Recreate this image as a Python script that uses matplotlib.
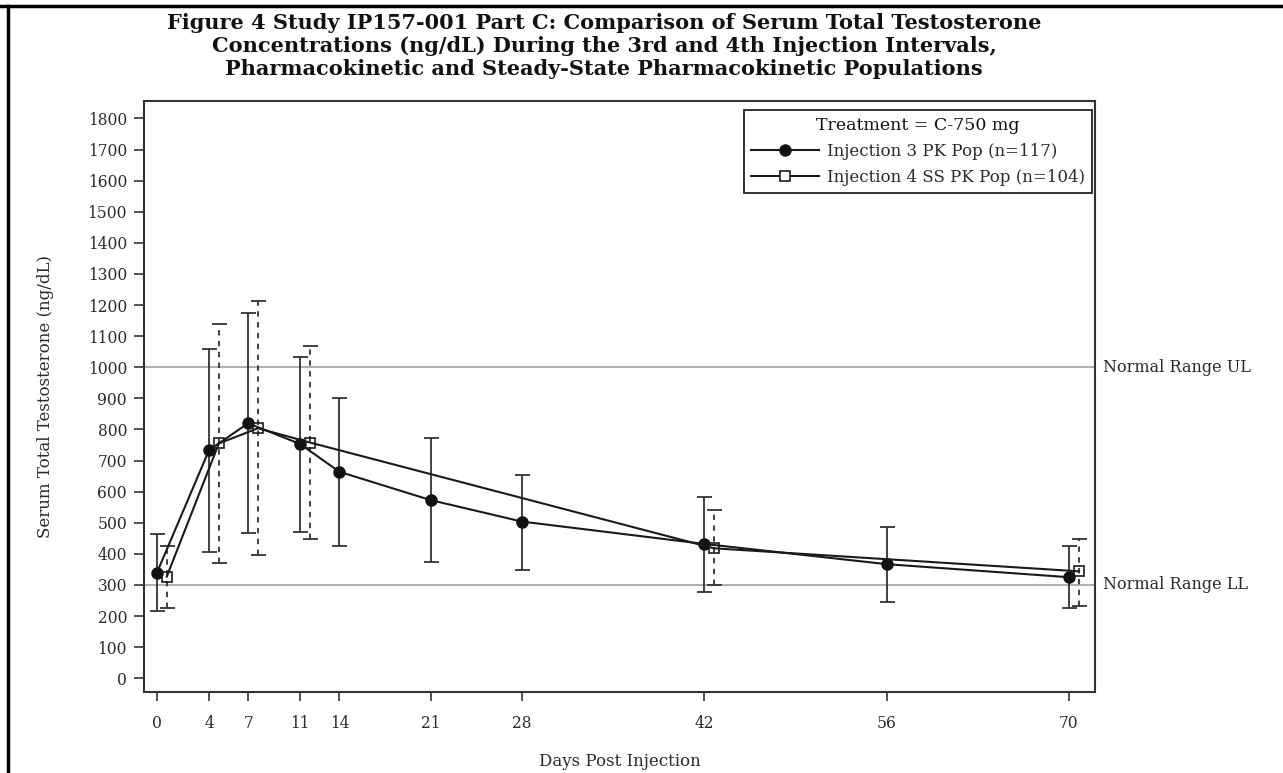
import matplotlib
matplotlib.use("Agg")
import matplotlib.pyplot as plt
from matplotlib.lines import Line2D

# data (ng/dL)
days = [0, 4, 7, 11, 14, 21, 28, 42, 56, 70]
inj3_mean = [340, 734, 820, 753, 664, 573, 504, 432, 367, 325]
inj3_upper = [463, 1059, 1173, 1034, 902, 772, 653, 584, 487, 425]
inj3_lower = [216, 405, 466, 471, 425, 375, 349, 278, 244, 225]

inj4_days = [0, 4, 7, 11, 42, 70]
inj4_mean = [327, 755, 804, 758, 418, 344]
inj4_upper = [425, 1139, 1214, 1068, 541, 449]
inj4_lower = [227, 370, 395, 447, 299, 233]

normal_ul = 1000
normal_ll = 300

title_lines = [
    "Figure 4 Study IP157-001 Part C: Comparison of Serum Total Testosterone",
    "Concentrations (ng/dL) During the 3rd and 4th Injection Intervals,",
    "Pharmacokinetic and Steady-State Pharmacokinetic Populations",
]
legend_title = "Treatment = C-750 mg"
label3 = "Injection 3 PK Pop (n=117)"
label4 = "Injection 4 SS PK Pop (n=104)"

# the scan is stretched sideways, a wide serif keeps the text extents close
plt.rcParams['font.family'] = ['DejaVu Serif']

fig = plt.figure(figsize=(12.83, 7.73), dpi=100)
ax = fig.add_axes([0.1122, 0.1048, 0.7413, 0.7645])

offset = 0.75  # cluster offset for the second series
x4 = [d + offset for d in inj4_days]
txt = "#2a2a2a"

ax.axhline(normal_ul, color="#a0a0a0", lw=1.2, zorder=1)
ax.axhline(normal_ll, color="#a0a0a0", lw=1.2, zorder=1)

err3 = [[m - lo for m, lo in zip(inj3_mean, inj3_lower)],
        [hi - m for m, hi in zip(inj3_mean, inj3_upper)]]
err4 = [[m - lo for m, lo in zip(inj4_mean, inj4_lower)],
        [hi - m for m, hi in zip(inj4_mean, inj4_upper)]]

eb3 = ax.errorbar(days, inj3_mean, yerr=err3, fmt="none", ecolor="#333333",
                  elinewidth=1.3, capsize=5.4, capthick=1.3, zorder=2)
eb4 = ax.errorbar(x4, inj4_mean, yerr=err4, fmt="none", ecolor="#333333",
                  elinewidth=1.3, capsize=5.4, capthick=1.3, zorder=2)
for lc in eb4[2]:
    lc.set_linestyle((0, (3, 3)))

ax.plot(days, inj3_mean, color="#1a1a1a", lw=1.5, marker="o", ms=8,
        mfc="#111111", mec="#111111", zorder=3)
ax.plot(x4, inj4_mean, color="#1a1a1a", lw=1.5, marker="s", ms=7,
        mfc="none", mec="#1a1a1a", mew=1.2, zorder=3)

ax.set_xlim(-1.0, 72.0)
ax.set_ylim(-44, 1856)
ax.set_xticks(days)
ax.set_yticks(range(0, 1801, 100))
ax.tick_params(direction="out", width=1.2, labelsize=11.2, colors="#333333",
               labelcolor=txt)
ax.tick_params(axis="y", length=7.2, pad=5)
ax.tick_params(axis="x", length=6.7, pad=10)
for s in ax.spines.values():
    s.set_linewidth(1.5)
    s.set_color("#333333")

ax.set_xlabel("Days Post Injection", fontsize=12, color=txt)
ax.set_ylabel("Serum Total Testosterone (ng/dL)", fontsize=12, color=txt)
ax.xaxis.set_label_coords(0.5, -0.118)
ax.xaxis.label.set_va("center")
ax.yaxis.set_label_coords(-0.103, 0.5)
ax.yaxis.label.set_va("center")

ax.text(1.008, normal_ul, "Normal Range UL", transform=ax.get_yaxis_transform(),
        va="center", ha="left", fontsize=11.5, color=txt)
ax.text(1.008, normal_ll, "Normal Range LL", transform=ax.get_yaxis_transform(),
        va="center", ha="left", fontsize=11.5, color=txt)

handles = [
    Line2D([], [], color="#1a1a1a", lw=1.5, marker="o", ms=8, mfc="#111111"),
    Line2D([], [], color="#1a1a1a", lw=1.5, marker="s", ms=7, mfc="white", mew=1.2),
]
leg = ax.legend(handles, [label3, label4], title=legend_title, loc="upper right",
                bbox_to_anchor=(0.9968, 0.9848), borderaxespad=0, fontsize=12,
                title_fontsize=12.5, fancybox=False, framealpha=1, handlelength=4.1,
                handletextpad=0.5, borderpad=0.4, labelspacing=0.55)
leg.get_frame().set_edgecolor("#222222")
leg.get_frame().set_linewidth(1.3)
for t in leg.get_texts():
    t.set_color(txt)
leg.get_title().set_color("#111111")

for i, line in enumerate(title_lines):
    fig.text(604 / 1283, 1 - (23 + 23 * i) / 773, line, ha="center", va="center",
             fontsize=15, fontweight="bold", color="#111111")

# page frame: top and left rules
fig.add_artist(Line2D([0, 1], [1 - 6 / 773, 1 - 6 / 773], color="black", lw=2.5,
                      transform=fig.transFigure))
fig.add_artist(Line2D([8 / 1283, 8 / 1283], [0, 1 - 6 / 773], color="black", lw=2.5,
                      transform=fig.transFigure))

fig.savefig("out.png", dpi=100)
